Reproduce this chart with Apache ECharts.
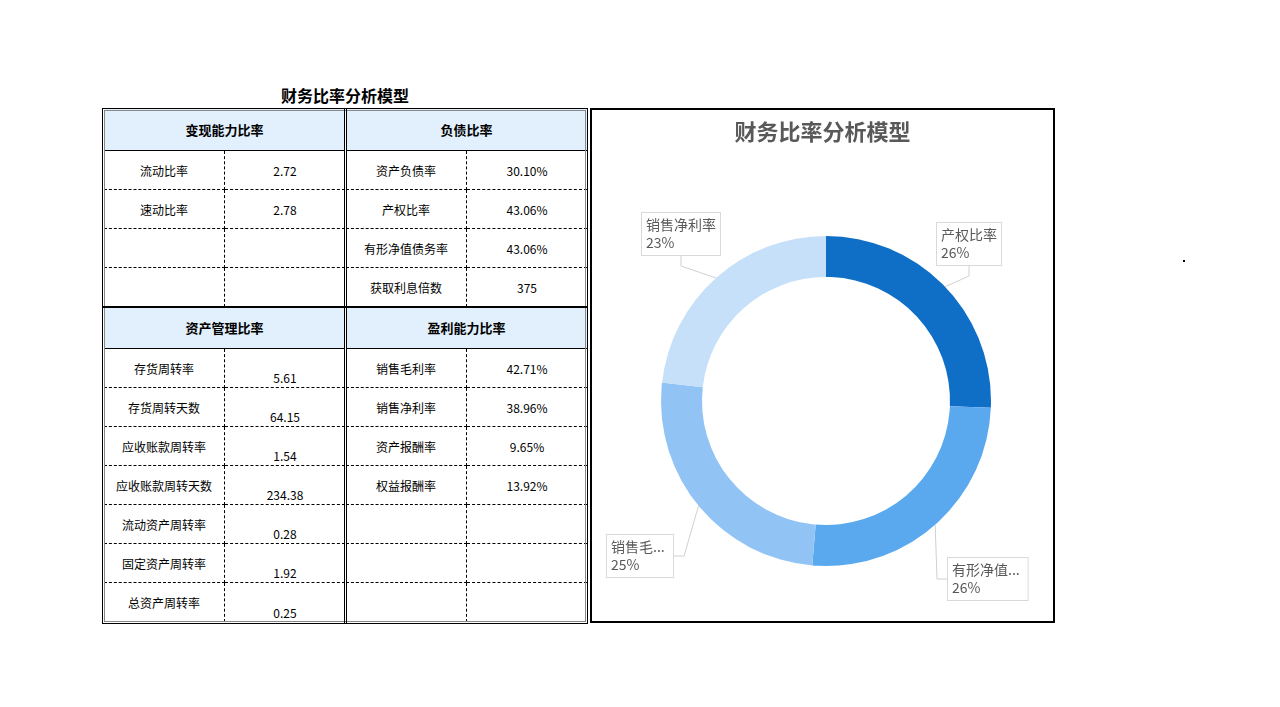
<!DOCTYPE html>
<html><head><meta charset="utf-8">
<script src="https://cdn.jsdelivr.net/npm/echarts@6/dist/echarts.min.js"></script>
<style>
body{margin:0;width:1280px;height:707px;background:#fff;font-family:"Noto Sans CJK SC",sans-serif;position:relative;overflow:hidden}
.c{position:absolute;box-sizing:border-box;display:flex;align-items:center;justify-content:center;font-size:12px;color:#000}
</style></head><body>
<div class="c" style="left:245px;top:82px;width:200px;height:26px;font-size:16px;font-weight:bold">财务比率分析模型</div>
<div id="tbl"></div>
<div id="chart" style="position:absolute;left:590px;top:108px;width:465px;height:515px;border:2px solid #000;box-sizing:border-box"></div>
<div style="position:absolute;left:1183px;top:260px;width:2px;height:2px;background:#000"></div>
<script>
const headers = ['变现能力比率','负债比率','资产管理比率','盈利能力比率'];
const liquidityNames = ['流动比率','速动比率','',''];
const liquidityVals = ['2.72','2.78','',''];
const debtNames = ['资产负债率','产权比率','有形净值债务率','获取利息倍数'];
const debtVals = ['30.10%','43.06%','43.06%','375'];
const assetNames = ['存货周转率','存货周转天数','应收账款周转率','应收账款周转天数','流动资产周转率','固定资产周转率','总资产周转率'];
const assetVals = ['5.61','64.15','1.54','234.38','0.28','1.92','0.25'];
const profitNames = ['销售毛利率','销售净利率','资产报酬率','权益报酬率','','',''];
const profitVals = ['42.71%','38.96%','9.65%','13.92%','','',''];
const pieNames = ['产权比率','有形净值债务率','销售毛利率','销售净利率'];
const pieVals = [43.06, 43.06, 42.71, 38.96];

const t = document.getElementById('tbl');
function cell(x,y,w,h,txt,st,extra){
  const d=document.createElement('div');d.className='c';
  d.style.cssText+=`left:${x}px;top:${y}px;width:${w}px;height:${h}px;`+(st||'');
  d.textContent=txt;t.appendChild(d);return d;
}
const L=[104,225,346,466], W=[121,121,120,121];
function block(bx,top,hdr,names,vals,bottomAlign){
  const x0=bx===0?104:346, w=bx===0?241:241;
  cell(x0,top,w,42,hdr,'background:#ddebf7;background:#e2effc;font-weight:bold;font-size:13px;border-bottom:1.5px solid #000;');
  for(let i=0;i<names.length;i++){
    const y=top+42+i*39;
    const bb= i<names.length-1?'border-bottom:1px dashed #000;':'';
    cell(x0,y,121,39,names[i],bb+'border-right:1px dashed #000;');
    cell(x0+121,y,w-121,39,vals[i],bb+(bottomAlign?'align-items:flex-end;padding-bottom:1px;':''));
  }
}
block(0,109,headers[0],liquidityNames,liquidityVals,false);
block(1,109,headers[1],debtNames,debtVals,false);
block(0,307,headers[2],assetNames,assetVals,true);
block(1,307,headers[3],profitNames,profitVals,false);
// outer/inner frame lines
const f=document.createElement('div');f.style.cssText='position:absolute;left:102px;top:108px;width:486px;height:516px;border:1px solid #000;box-sizing:border-box;outline:1px solid #888;outline-offset:-3px';t.appendChild(f);
const v=document.createElement('div');v.style.cssText='position:absolute;left:344px;top:109px;width:3px;height:514px;border-left:1px solid #000;border-right:1px solid #000;box-sizing:border-box';t.appendChild(v);
const h1=document.createElement('div');h1.style.cssText='position:absolute;left:103px;top:306px;width:484px;height:2px;background:#000';t.appendChild(h1);

const chart = echarts.init(document.getElementById('chart'));
const pos = [[345,113],[356,448],[15,425],[50,103]];
chart.setOption({
  title:{text:'财务比率分析模型',left:'center',top:6,textStyle:{fontSize:22,fontWeight:'bold',color:'#595959',fontFamily:'Noto Sans CJK SC'}},
  color:['#0f6fc6','#5aa9ee','#91c4f5','#c6e0f9'],
  series:[{type:'pie',center:[234,291],radius:[124,165],startAngle:90,clockwise:true,
    data:pieNames.map((n,i)=>({name:n,value:pieVals[i]})),
    label:{show:true,formatter:p=>p.name+'\n'+Math.round(p.percent)+'%',color:'#595959',fontSize:14,lineHeight:18,
      backgroundColor:'#fff',borderColor:'#d9d9d9',borderWidth:1,padding:[3,4],fontFamily:'Noto Sans CJK SC'},
    labelLine:{show:true,length:20,length2:10,lineStyle:{color:'#d0d0d0'}},
    labelLayout:p=>({x:pos[p.dataIndex][0],y:pos[p.dataIndex][1],align:'left',verticalAlign:'top'}),
    emphasis:{disabled:true}}]
});
</script></body></html>
